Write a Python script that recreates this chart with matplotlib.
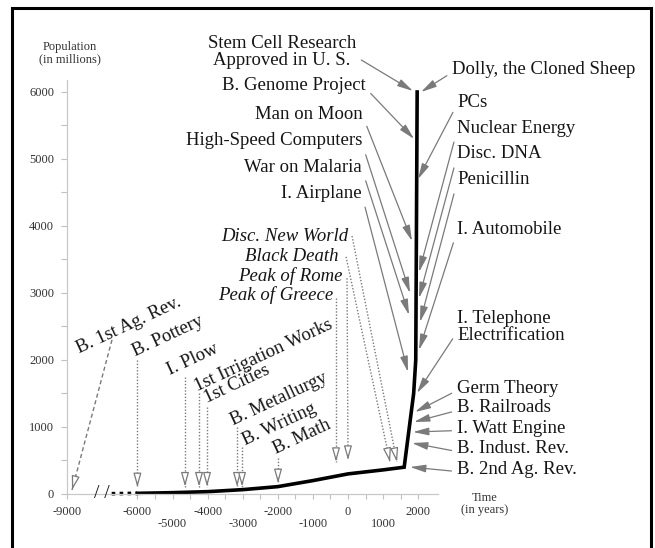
import numpy as np
import matplotlib.pyplot as plt
from matplotlib.patches import Rectangle

plt.rcParams['font.family'] = ['Liberation Serif', 'DejaVu Serif']

# world population curve (millions)
pre_years = [-7100, -6000]
pre_pops = [5, 10]
years = [-6000, -5000, -4000, -3000, -2000, -1000, -500, 0, 1000, 1600, 1870, 1930, 1970]
pops = [10, 20, 35, 65, 110, 200, 250, 300, 360, 400, 1500, 2000, 6000]

# events to the left of the curve: label, arrow tip (year, pop)
left_labels = ['Stem Cell Research\nApproved in U. S.', 'B. Genome Project', 'Man on Moon',
               'High-Speed Computers', 'War on Malaria', 'I. Airplane']
left_tip_year = [1850, 1880, 1823, 1766, 1738, 1709]
left_tip_pop = [6015, 5300, 3776, 3000, 2672, 1821]
left_text_x = [-1880, 513, 427, 400, 400, 400]
left_text_y = [6600, 6090, 5670, 5270, 4880, 4490]

# events to the right of the curve
right_labels = ['Dolly, the Cloned Sheep', 'PCs', 'Nuclear Energy', 'Disc. DNA', 'Penicillin',
                'I. Automobile', 'I. Telephone\nElectrification', 'Germ Theory', 'B. Railroads',
                'I. Watt Engine', 'B. Indust. Rev.', 'B. 2nd Ag. Rev.']
right_tip_year = [2080, 1994, 2023, 2023, 2051, 2023, 1966, 1909, 1880, 1852, 1823, 1766]
right_tip_pop = [6000, 4700, 3313, 2925, 2567, 2150, 1507, 1224, 1075, 925, 761, 403]
right_text_x = [2963, 3105, 3105, 3105, 3105, 3105, 3105, 3105, 3105, 3105, 3105, 3105]
right_text_y = [6330, 5850, 5460, 5075, 4687, 3955, 2490, 1582, 1284, 985, 672, 373]

# italic events with dotted pointers
ital_labels = ['Disc. New World', 'Black Death', 'Peak of Rome', 'Peak of Greece']
ital_tip_year = [1396, 1197, 0, -342]
ital_tip_pop = [478, 478, 507, 478]
ital_text_x = [0, -285, -142, -427]
ital_text_y = [3836, 3552, 3254, 2970]
ital_line_start = [(114, 3850), (-57, 3540), (-28, 3220), (-342, 2930)]

# early events, rotated labels
early_labels = ['B. 1st Ag. Rev.', 'B. Pottery', 'I. Plow', '1st Irrigation Works',
                '1st Cities', 'B. Metallurgy', 'B. Writing', 'B. Math']
early_year = [-8795, -6000, -4644, -4245, -4017, -3162, -3020, -1994]
early_tip_pop = [60, 100, 110, 110, 110, 110, 110, 160]
early_line_top = [(-7086, 2300), (-6000, 2000), (-4644, 1750), (-4245, 1500),
                  (-4017, 1300), (-3162, 1000), (-3020, 700), (-1994, 540)]
early_text_pos = [(-8496, 2104), (-6080, 2060), (-5071, 1776), (-4302, 1537),
                  (-4017, 1358), (-3276, 1030), (-2934, 731), (-2051, 597)]


def fwd(x):
    x = np.asarray(x, dtype=float)
    return np.where(x < -6000, -6000 + (x + 6000) / 1.5, x)


def inv(x):
    x = np.asarray(x, dtype=float)
    return np.where(x < -6000, -6000 + (x + 6000) * 1.5, x)


fig = plt.figure(figsize=(6.55, 5.48), dpi=100)
ax = fig.add_axes([0, 0, 1, 1])
ax.set_xscale('function', functions=(fwd, inv))
ax.set_xlim(float(inv(-9915)), 8746)
ax.set_ylim(-806, 7373)

txt_col = '#151515'
arr_col = '#7a7a7a'
fs = 13.5

# curve
ax.plot(pre_years, pre_pops, color='k', lw=2.6, ls=(0, (1, 1.2)))
ax.plot(years, pops, color='k', lw=2.6, solid_joinstyle='miter')
ax.text(-7513, 0, '/ /', ha='center', va='center', fontsize=14, color=txt_col)

# axes styling
for s in ['top', 'right']:
    ax.spines[s].set_visible(False)
ax.spines['left'].set_position(('data', -9000))
ax.spines['left'].set_bounds(0, 6180)
ax.spines['bottom'].set_position(('data', 0))
ax.spines['bottom'].set_bounds(-9000, 2560)
for s in ['left', 'bottom']:
    ax.spines[s].set_color('#c8c8c8')
    ax.spines[s].set_linewidth(0.9)

xt = [-9000, -6000, -5000, -4000, -3000, -2000, -1000, 0, 1000, 2000]
ax.set_xticks(xt, labels=[str(v) for v in xt])
ax.set_xticks(np.arange(-5500, 2000, 1000), minor=True)
ax.set_yticks(range(0, 6001, 1000))
ax.set_yticks(range(500, 6000, 1000), minor=True)
ax.tick_params(which='both', direction='out', color='#c0c0c0', width=0.8,
               labelcolor='#333333', labelsize=9)
ax.tick_params(axis='x', which='both', length=3.5, pad=5)
ax.tick_params(axis='y', which='both', length=4.5, pad=5)
for t in ax.xaxis.get_major_ticks():
    if t.get_loc() in (-5000, -3000, -1000, 1000):
        t.set_pad(14)

ax.text(-8900, 6580, 'Population\n(in millions)', ha='center', va='center', fontsize=9,
        color='#333333', linespacing=1.1)
ax.text(3900, -150, 'Time\n(in years)', ha='center', va='center', fontsize=9,
        color='#333333', linespacing=1.1)

arrow = '-|>,head_length=0.7,head_width=0.17'

for lab, ty, tp, x, y in zip(left_labels, left_tip_year, left_tip_pop, left_text_x, left_text_y):
    ha = 'center' if '\n' in lab else 'right'
    ax.annotate(lab, xy=(ty, tp), xytext=(x, y), ha=ha, va='center', fontsize=fs,
                color=txt_col, linespacing=1.0,
                arrowprops=dict(arrowstyle=arrow, color=arr_col, lw=0.9, shrinkA=2,
                                shrinkB=0, relpos=(1, 0.35)))

for lab, ty, tp, x, y in zip(right_labels, right_tip_year, right_tip_pop, right_text_x, right_text_y):
    ax.annotate(lab, xy=(ty, tp), xytext=(x, y), ha='left', va='center', fontsize=fs,
                color=txt_col, linespacing=1.0,
                arrowprops=dict(arrowstyle=arrow, color=arr_col, lw=0.9, shrinkA=2,
                                shrinkB=0, relpos=(0, 0.35)))


def hollow_head(start, tip):
    p1 = ax.transData.transform(start)
    p2 = ax.transData.transform(tip)
    d = (p1 - p2) / np.hypot(*(p1 - p2)) * 11
    ax.annotate('', xy=tip, xytext=(d[0], d[1]), textcoords='offset pixels',
                arrowprops=dict(arrowstyle='-|>,head_length=0.85,head_width=0.24',
                                fc='white', ec=arr_col, lw=0.9, shrinkA=0, shrinkB=0))


for lab, ty, tp, x, y, st in zip(ital_labels, ital_tip_year, ital_tip_pop, ital_text_x,
                                 ital_text_y, ital_line_start):
    ax.text(x, y, lab, ha='right', va='center', fontsize=fs, style='italic', color=txt_col)
    ax.plot([st[0], ty], [st[1], tp], color=arr_col, lw=1.0, ls=(0, (1, 1.3)))
    hollow_head(st, (ty, tp))

for i, (lab, ty, tp, top, pos) in enumerate(zip(early_labels, early_year, early_tip_pop,
                                                early_line_top, early_text_pos)):
    ax.text(pos[0], pos[1], lab, rotation=25, rotation_mode='anchor', ha='left',
            va='baseline', fontsize=fs, color=txt_col)
    ls = (0, (3, 2)) if i == 0 else (0, (1, 1.3))
    ax.plot([top[0], ty], [top[1], tp], color=arr_col, lw=1.0, ls=ls)
    hollow_head(top, (ty, tp))

# outer frame
fig.patches.append(Rectangle((12 / 655, -0.02), 639 / 655, 0.02 + 540 / 548, fill=False,
                             ec='k', lw=2.2, transform=fig.transFigure))

fig.savefig('out.png', dpi=100)
